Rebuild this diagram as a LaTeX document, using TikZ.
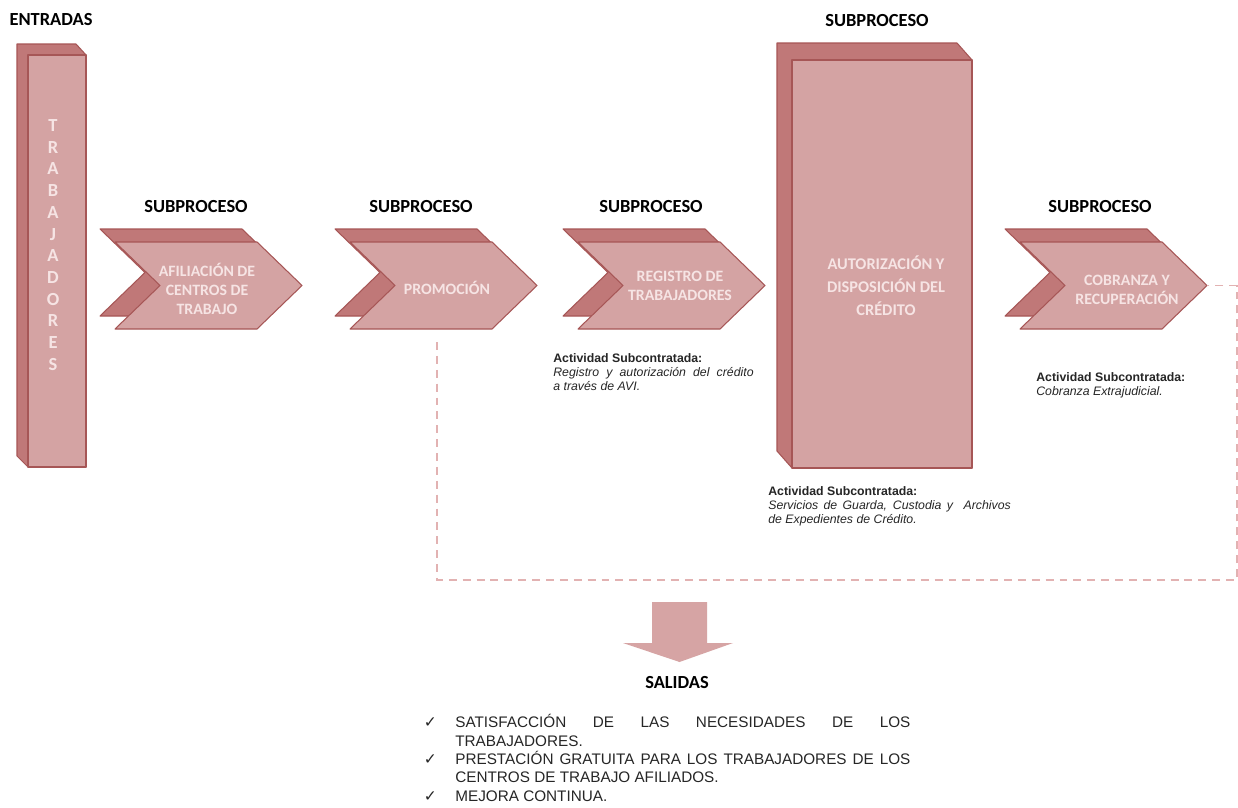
\documentclass[tikz,border=0pt]{standalone}
\usepackage{fontspec}
\setmainfont{Carlito}
\newfontfamily\arialf{Liberation Sans}
\newfontfamily\dejavuf{DejaVu Sans}
\definecolor{frontc}{RGB}{212,163,163}
\definecolor{backc}{RGB}{192,120,120}
\definecolor{edgec}{RGB}{166,86,86}
\definecolor{txtc}{RGB}{246,228,228}
\definecolor{dashc}{RGB}{226,178,178}
\definecolor{arrowc}{RGB}{214,164,164}
\tikzset{
  backface/.style={fill=backc, draw=edgec, line width=0.6pt, line join=round},
  frontface/.style={fill=frontc, draw=edgec, line width=0.6pt, line join=round},
  head/.style={font=\fontsize{10.5}{12}\selectfont\bfseries, text=black, inner sep=0pt},
  shapetxt/.style={font=\fontsize{9}{10.8}\selectfont\bfseries, text=txtc, align=center, inner sep=0pt},
  boxtxt/.style={font=\fontsize{9.3}{13}\selectfont\bfseries, text=txtc, align=center, inner sep=0pt},
  vertxt/.style={font=\fontsize{10.5}{12.35}\selectfont\bfseries, text=txtc, align=center, inner sep=0pt},
  note/.style={font=\arialf\fontsize{7}{8}\selectfont, align=justify, inner sep=0pt, anchor=north west, text=black!85},
  listtxt/.style={font=\arialf\fontsize{8.7}{10.5}\selectfont, align=justify, inner sep=0pt, anchor=north west, text=black!85},
  dashline/.style={draw=dashc, line width=0.9pt, dash pattern=on 4.5pt off 3.4pt},
}
% chevron: name, left x of front face
\newcommand\mychev[2]{%
  \draw[backface] ({#2-15},229) -- ({#2+127},229) -- ({#2+172},272.5) -- ({#2+127},316) -- ({#2-15},316) -- ({#2+30},272.5) -- cycle;
  \draw[frontface] (#2,242) -- ({#2+142},242) -- ({#2+187},285.5) -- ({#2+142},329) -- (#2,329) -- ({#2+45},285.5) -- cycle;
  \coordinate (#1-tip) at ({#2+187},285.5);
  \coordinate (#1-bot) at ({#2+87},329);
}
\newcommand\chk{\leavevmode\llap{{\dejavuf\fontsize{8.8}{9}\selectfont ✓}\hspace{10.5pt}}}
\begin{document}
\begin{tikzpicture}[x=0.02cm,y=-0.02cm]
\useasboundingbox (0,0) rectangle (1238,808);
\fill[white] (0,0) rectangle (1238,808);

% headers
\node[head] (entradas) at (51,20) {ENTRADAS};
\node[head] (sub0) at (877,21) {SUBPROCESO};
\node[head] (sub1) at (196,207) {SUBPROCESO};
\node[head] (sub2) at (421,207) {SUBPROCESO};
\node[head] (sub3) at (651,207) {SUBPROCESO};
\node[head] (sub4) at (1100,207) {SUBPROCESO};

% input column
\draw[backface] (17,44) -- (76,44) -- (86,55) -- (86,467) -- (28,467) -- (17,456) -- cycle;
\draw[frontface] (28,55) rectangle (86,467);
\node[vertxt] (trab) at (53,245) {T\\R\\A\\B\\A\\J\\A\\D\\O\\R\\E\\S};

% chevrons
\mychev{ch1}{115}
\mychev{ch2}{350}
\mychev{ch3}{578}
\mychev{ch4}{1020}
\node[shapetxt] (t1) at (207,289) {AFILIACIÓN DE\\CENTROS DE\\TRABAJO};
\node[shapetxt] (t2) at (447,288) {PROMOCIÓN};
\node[shapetxt] (t3) at (680,286) {REGISTRO DE\\TRABAJADORES};
\node[shapetxt] (t4) at (1127,290) {COBRANZA Y\\RECUPERACIÓN};

% big box
\draw[backface] (777,43) -- (957,43) -- (972,60) -- (972,468) -- (792,468) -- (777,451) -- cycle;
\draw[frontface] (792,60) rectangle (972,468);
\node[boxtxt] (tb) at (886,286) {AUTORIZACIÓN Y\\DISPOSICIÓN DEL\\CRÉDITO};

% notes
\node[note, text width=114pt] (n3) at (553,353) {\textbf{Actividad Subcontratada:}\newline \textit{Registro y autorización del crédito\linebreak a través de AVI.}};
\node[note, text width=138pt] (nb) at (768,486) {\textbf{Actividad Subcontratada:}\newline \textit{Servicios de Guarda, Custodia y \ Archivos\linebreak de Expedientes de Crédito.}};
\node[note, text width=100pt] (n4) at (1036,372) {\textbf{Actividad Subcontratada:}\newline \textit{Cobranza Extrajudicial.}};

% dashed feedback line
\coordinate (dstart) at (437,342);
\coordinate (dcorner) at (1237,580);
\draw[dashline] (dstart) |- (dcorner) |- (ch4-tip);

% output arrow
\fill[arrowc] (652,602) -- (707,602) -- (707,643) -- (733,643) -- (679.5,662) -- (623,643) -- (652,643) -- cycle;
\node[head] (salidas) at (677,683) {SALIDAS};
\node[listtxt, text width=259pt] (list) at (455,714) {\tolerance=10000\hyphenpenalty=10000\parindent=0pt
\chk SATISFACCIÓN DE LAS NECESIDADES DE LOS TRABAJADORES.\par
\chk PRESTACIÓN GRATUITA PARA LOS TRABAJADORES DE LOS CENTROS DE TRABAJO AFILIADOS.\par
\chk MEJORA CONTINUA.};
\end{tikzpicture}
\end{document}
